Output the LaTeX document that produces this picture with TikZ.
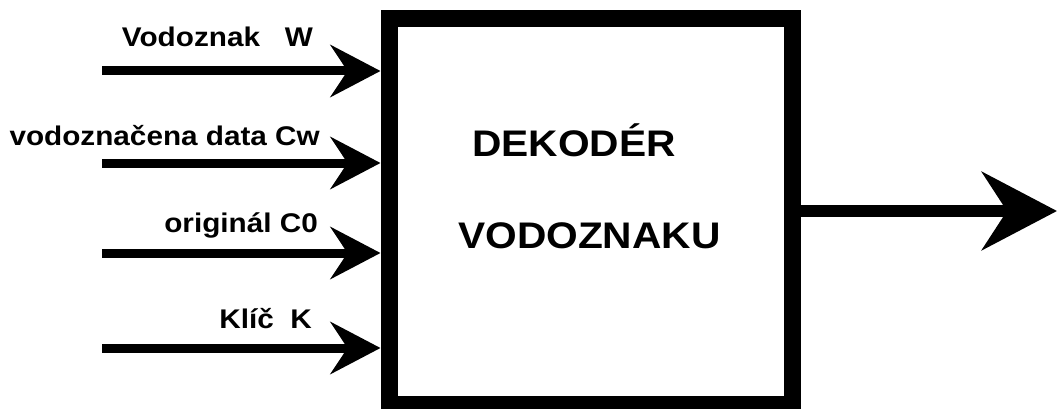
\documentclass[tikz,border=0pt]{standalone}
\usepackage{fontspec}
\setmainfont{Liberation Sans}
\newfontfamily\labfont{Liberation Sans}[FakeStretch=1.1]
\newfontfamily\mainfont{Liberation Sans}[FakeStretch=1.1]
\usetikzlibrary{arrows.meta}
\tikzset{
  blockbox/.style={draw=black, line width=17pt, fill=white, minimum width=403.5pt, minimum height=385.5pt, inner sep=0pt},
  inarrow/.style={line width=9pt, -{Stealth[length=50pt, width=52pt, inset=17pt]}},
  outarrow/.style={line width=12pt, -{Stealth[length=75pt, width=78pt, inset=25pt]}},
  inlabel/.style={anchor=base east, inner sep=0pt, font=\labfont\bfseries\fontsize{27}{27}\selectfont},
  boxtext/.style={anchor=base west, inner sep=0pt, font=\mainfont\bfseries\fontsize{37}{37}\selectfont},
}
\begin{document}
\begin{tikzpicture}[x=1pt, y=-1pt]
\useasboundingbox (0,0) rectangle (1057,409);
\node[blockbox] (box) at (590.75,211.25) {};
\node[boxtext] (t1) at (472,157) {DEKODÉR};
\node[boxtext] (t2) at (458,248) {VODOZNAKU};
\coordinate (s1) at (102,71);
\coordinate (s2) at (102,163);
\coordinate (s3) at (102,253);
\coordinate (s4) at (102,348);
\draw[inarrow] (s1) -- (s1 -| box.west);
\draw[inarrow] (s2) -- (s2 -| box.west);
\draw[inarrow] (s3) -- (s3 -| box.west);
\draw[inarrow] (s4) -- (s4 -| box.west);
\node[inlabel] (l1) at (313,47) {Vodoznak\ \ \ W};
\node[inlabel] (l2) at (320,146) {vodoznačena data Cw};
\node[inlabel] (l3) at (318,232) {originál C0};
\node[inlabel] (l4) at (312,328) {Klíč\ \ K};
\coordinate (out) at (1057,211);
\draw[outarrow] (box.east |- out) -- (out);
\end{tikzpicture}
\end{document}
